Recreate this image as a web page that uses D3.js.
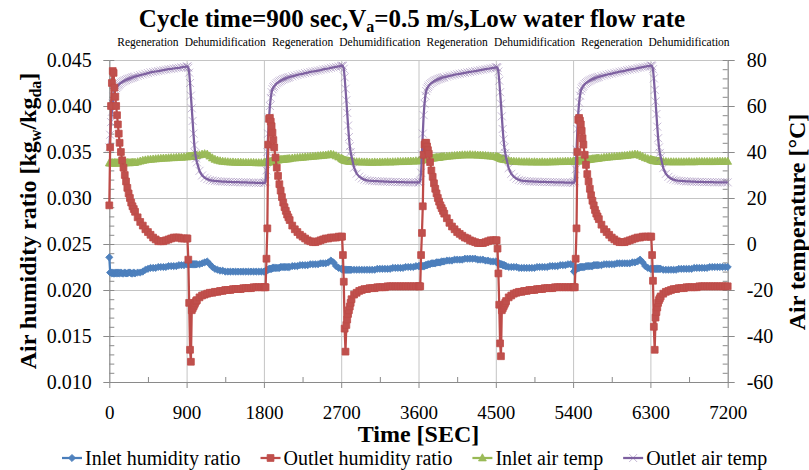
<!DOCTYPE html>
<html>
<head>
<meta charset="utf-8">
<title>Cycle time=900 sec</title>
<script src="https://cdn.jsdelivr.net/npm/d3@7"></script>
<style>
  body { margin: 0; background: #fff; }
  svg text { font-family: "Liberation Serif", "Times New Roman", serif; fill: #000; }
</style>
</head>
<body>
<div id="chart"></div>
<script>
// Measured time stamps [s]: 10 s steps right after each switch, then 15 s / 30 s
const time = [
  0, 10, 20, 30, 40, 50, 60, 70, 80, 90, 100, 110, 120, 135, 150, 165, 180, 195, 210, 225, 240, 255, 270, 285, 300, 330, 360, 390, 420, 450, 480, 510, 540, 570, 600, 630, 660, 690, 720, 750, 780, 810, 840, 870,
  900, 910, 920, 930, 940, 950, 960, 970, 980, 990, 1000, 1010, 1020, 1050, 1080, 1110, 1140, 1170, 1200, 1230, 1260, 1290, 1320, 1350, 1380, 1410, 1440, 1470, 1500, 1530, 1560, 1590, 1620, 1650, 1680, 1710, 1740, 1770,
  1800, 1810, 1820, 1830, 1840, 1850, 1860, 1870, 1880, 1890, 1900, 1910, 1920, 1935, 1950, 1965, 1980, 1995, 2010, 2025, 2040, 2055, 2070, 2085, 2100, 2130, 2160, 2190, 2220, 2250, 2280, 2310, 2340, 2370, 2400, 2430, 2460, 2490, 2520, 2550, 2580, 2610, 2640, 2670,
  2700, 2710, 2720, 2730, 2740, 2750, 2760, 2770, 2780, 2790, 2800, 2810, 2820, 2850, 2880, 2910, 2940, 2970, 3000, 3030, 3060, 3090, 3120, 3150, 3180, 3210, 3240, 3270, 3300, 3330, 3360, 3390, 3420, 3450, 3480, 3510, 3540, 3570,
  3600, 3610, 3620, 3630, 3640, 3650, 3660, 3670, 3680, 3690, 3700, 3710, 3720, 3735, 3750, 3765, 3780, 3795, 3810, 3825, 3840, 3855, 3870, 3885, 3900, 3930, 3960, 3990, 4020, 4050, 4080, 4110, 4140, 4170, 4200, 4230, 4260, 4290, 4320, 4350, 4380, 4410, 4440, 4470,
  4500, 4510, 4520, 4530, 4540, 4550, 4560, 4570, 4580, 4590, 4600, 4610, 4620, 4650, 4680, 4710, 4740, 4770, 4800, 4830, 4860, 4890, 4920, 4950, 4980, 5010, 5040, 5070, 5100, 5130, 5160, 5190, 5220, 5250, 5280, 5310, 5340, 5370,
  5400, 5410, 5420, 5430, 5440, 5450, 5460, 5470, 5480, 5490, 5500, 5510, 5520, 5535, 5550, 5565, 5580, 5595, 5610, 5625, 5640, 5655, 5670, 5685, 5700, 5730, 5760, 5790, 5820, 5850, 5880, 5910, 5940, 5970, 6000, 6030, 6060, 6090, 6120, 6150, 6180, 6210, 6240, 6270,
  6300, 6310, 6320, 6330, 6340, 6350, 6360, 6370, 6380, 6390, 6400, 6410, 6420, 6450, 6480, 6510, 6540, 6570, 6600, 6630, 6660, 6690, 6720, 6750, 6780, 6810, 6840, 6870, 6900, 6930, 6960, 6990, 7020, 7050, 7080, 7110, 7140, 7170,
  7200
];

// Inlet humidity ratio [kg_w/kg_da]
const inletHumidity = [
  0.02355, 0.0219, 0.0219, 0.0218, 0.0219, 0.0218, 0.0218, 0.0219, 0.0218, 0.0219, 0.0218, 0.0219, 0.0218, 0.0219, 0.0218, 0.0218, 0.0219, 0.0218, 0.0218, 0.0219, 0.0219, 0.0218, 0.0218, 0.0219, 0.0218, 0.0219, 0.0219, 0.0220, 0.0222, 0.0223, 0.0224, 0.0224, 0.0224, 0.0225, 0.0225, 0.0225, 0.0225, 0.0226, 0.0226, 0.0226, 0.0226, 0.0227, 0.0227, 0.0227,
  0.0228, 0.0228, 0.0229, 0.0228, 0.0228, 0.0228, 0.0228, 0.0228, 0.0228, 0.0228, 0.0228, 0.0228, 0.0228, 0.0228, 0.0229, 0.0230, 0.0231, 0.0228, 0.0225, 0.0223, 0.0222, 0.0221, 0.0221, 0.0220, 0.0220, 0.0220, 0.0220, 0.0220, 0.0220, 0.0220, 0.0220, 0.0220, 0.0220, 0.0220, 0.0220, 0.0220, 0.0220, 0.0220,
  0.0220, 0.0220, 0.0221, 0.0221, 0.0222, 0.0222, 0.0223, 0.0223, 0.0223, 0.0223, 0.0224, 0.0224, 0.0224, 0.0224, 0.0224, 0.0224, 0.0224, 0.0225, 0.0225, 0.0225, 0.0225, 0.0225, 0.0225, 0.0225, 0.0225, 0.0226, 0.0226, 0.0226, 0.0227, 0.0227, 0.0227, 0.0227, 0.0228, 0.0228, 0.0228, 0.0228, 0.0229, 0.0229, 0.0229, 0.0230, 0.0232, 0.0230, 0.0226, 0.0224,
  0.0223, 0.0223, 0.0222, 0.0222, 0.0222, 0.0222, 0.0222, 0.0222, 0.0222, 0.0222, 0.0222, 0.0222, 0.0222, 0.0222, 0.0222, 0.0222, 0.0222, 0.0222, 0.0222, 0.0222, 0.0222, 0.0222, 0.0223, 0.0223, 0.0223, 0.0223, 0.0223, 0.0223, 0.0224, 0.0224, 0.0224, 0.0224, 0.0224, 0.0225, 0.0225, 0.0225, 0.0225, 0.0226,
  0.0226, 0.0226, 0.0226, 0.0226, 0.0226, 0.0226, 0.0226, 0.0226, 0.0227, 0.0227, 0.0227, 0.0228, 0.0228, 0.0228, 0.0229, 0.0229, 0.0229, 0.0229, 0.0230, 0.0230, 0.0230, 0.0230, 0.0231, 0.0231, 0.0231, 0.0232, 0.0232, 0.0232, 0.0233, 0.0233, 0.0233, 0.0233, 0.0234, 0.0234, 0.0234, 0.0234, 0.0234, 0.0233, 0.0233, 0.0233, 0.0232, 0.0232, 0.0231, 0.0231,
  0.0231, 0.0230, 0.0230, 0.0229, 0.0229, 0.0228, 0.0228, 0.0228, 0.0227, 0.0227, 0.0227, 0.0226, 0.0226, 0.0225, 0.0225, 0.0225, 0.0225, 0.0224, 0.0224, 0.0224, 0.0224, 0.0224, 0.0224, 0.0224, 0.0225, 0.0225, 0.0225, 0.0225, 0.0225, 0.0226, 0.0226, 0.0226, 0.0226, 0.0227, 0.0227, 0.0227, 0.0228, 0.0228,
  0.0227, 0.0220, 0.0221, 0.0222, 0.0223, 0.0224, 0.0224, 0.0224, 0.0225, 0.0225, 0.0225, 0.0225, 0.0225, 0.0225, 0.0226, 0.0226, 0.0226, 0.0226, 0.0226, 0.0226, 0.0227, 0.0227, 0.0227, 0.0227, 0.0227, 0.0227, 0.0228, 0.0228, 0.0228, 0.0228, 0.0228, 0.0229, 0.0229, 0.0229, 0.0229, 0.0229, 0.0229, 0.0230, 0.0230, 0.0231, 0.0233, 0.0230, 0.0226, 0.0224,
  0.0223, 0.0223, 0.0223, 0.0223, 0.0223, 0.0223, 0.0223, 0.0223, 0.0223, 0.0223, 0.0223, 0.0223, 0.0223, 0.0222, 0.0222, 0.0222, 0.0222, 0.0222, 0.0222, 0.0223, 0.0223, 0.0223, 0.0223, 0.0223, 0.0223, 0.0224, 0.0224, 0.0224, 0.0224, 0.0224, 0.0224, 0.0225, 0.0225, 0.0225, 0.0225, 0.0225, 0.0225, 0.0225,
  0.0225
];

// Outlet humidity ratio [kg_w/kg_da]
const outletHumidity = [
  0.0292, 0.0355, 0.0400, 0.0425, 0.0438, 0.0436, 0.0420, 0.0410, 0.0400, 0.0390, 0.0380, 0.0370, 0.0360, 0.0350, 0.0341, 0.0333, 0.0325, 0.0318, 0.0311, 0.0305, 0.0300, 0.0295, 0.0291, 0.0288, 0.0285, 0.0279, 0.0274, 0.0270, 0.0266, 0.0263, 0.0260, 0.0257, 0.0255, 0.0253, 0.0253, 0.0253, 0.0254, 0.0255, 0.0256, 0.0257, 0.0257, 0.0257, 0.0256, 0.0256,
  0.0256, 0.0256, 0.0233, 0.0186, 0.0135, 0.0122, 0.0178, 0.0180, 0.0182, 0.0184, 0.0186, 0.0188, 0.0189, 0.0192, 0.0194, 0.0195, 0.0196, 0.0197, 0.0197, 0.0198, 0.0198, 0.0199, 0.0199, 0.0200, 0.0200, 0.0200, 0.0201, 0.0201, 0.0201, 0.0201, 0.0202, 0.0202, 0.0202, 0.0202, 0.0203, 0.0203, 0.0203, 0.0203,
  0.0203, 0.0203, 0.0203, 0.0234, 0.0267, 0.0358, 0.0386, 0.0387, 0.0383, 0.0378, 0.0371, 0.0363, 0.0355, 0.0344, 0.0333, 0.0324, 0.0315, 0.0308, 0.0301, 0.0295, 0.0290, 0.0286, 0.0282, 0.0279, 0.0276, 0.0270, 0.0266, 0.0263, 0.0260, 0.0258, 0.0256, 0.0254, 0.0253, 0.0252, 0.0252, 0.0253, 0.0254, 0.0255, 0.0256, 0.0256, 0.0257, 0.0257, 0.0257, 0.0258,
  0.0258, 0.0258, 0.0238, 0.0209, 0.0158, 0.0133, 0.0162, 0.0168, 0.0174, 0.0178, 0.0182, 0.0186, 0.0190, 0.0195, 0.0197, 0.0199, 0.0200, 0.0201, 0.0201, 0.0202, 0.0202, 0.0202, 0.0203, 0.0203, 0.0203, 0.0203, 0.0204, 0.0204, 0.0204, 0.0204, 0.0204, 0.0204, 0.0204, 0.0204, 0.0204, 0.0204, 0.0204, 0.0204,
  0.0204, 0.0204, 0.0204, 0.0238, 0.0262, 0.0291, 0.0347, 0.0358, 0.0360, 0.0360, 0.0356, 0.0352, 0.0348, 0.0339, 0.0330, 0.0323, 0.0316, 0.0310, 0.0305, 0.0300, 0.0296, 0.0292, 0.0289, 0.0286, 0.0283, 0.0278, 0.0273, 0.0269, 0.0266, 0.0263, 0.0261, 0.0259, 0.0257, 0.0256, 0.0254, 0.0253, 0.0252, 0.0251, 0.0251, 0.0251, 0.0252, 0.0253, 0.0254, 0.0254,
  0.0254, 0.0254, 0.0245, 0.0218, 0.0184, 0.0142, 0.0128, 0.0178, 0.0180, 0.0182, 0.0184, 0.0186, 0.0188, 0.0192, 0.0194, 0.0196, 0.0197, 0.0198, 0.0198, 0.0199, 0.0199, 0.0200, 0.0200, 0.0200, 0.0201, 0.0201, 0.0201, 0.0202, 0.0202, 0.0202, 0.0202, 0.0203, 0.0203, 0.0203, 0.0203, 0.0203, 0.0203, 0.0203,
  0.0203, 0.0203, 0.0203, 0.0234, 0.0267, 0.0350, 0.0385, 0.0387, 0.0384, 0.0380, 0.0373, 0.0365, 0.0358, 0.0347, 0.0336, 0.0326, 0.0318, 0.0310, 0.0303, 0.0297, 0.0292, 0.0287, 0.0283, 0.0280, 0.0277, 0.0271, 0.0266, 0.0263, 0.0260, 0.0257, 0.0255, 0.0253, 0.0252, 0.0252, 0.0252, 0.0253, 0.0254, 0.0255, 0.0256, 0.0257, 0.0257, 0.0258, 0.0258, 0.0258,
  0.0258, 0.0258, 0.0238, 0.0210, 0.0160, 0.0135, 0.0170, 0.0176, 0.0181, 0.0186, 0.0189, 0.0191, 0.0193, 0.0196, 0.0198, 0.0199, 0.0200, 0.0201, 0.0201, 0.0202, 0.0202, 0.0202, 0.0203, 0.0203, 0.0203, 0.0203, 0.0203, 0.0204, 0.0204, 0.0204, 0.0204, 0.0204, 0.0204, 0.0204, 0.0204, 0.0204, 0.0204, 0.0204,
  0.0204
];

// Inlet air temperature [°C]
const inletTemp = [
  35.2, 35.2, 35.3, 35.2, 35.3, 35.2, 35.3, 35.3, 35.2, 35.3, 35.2, 35.3, 35.2, 35.3, 35.3, 35.2, 35.3, 35.3, 35.4, 35.3, 35.3, 35.4, 35.4, 35.4, 35.5, 35.7, 36.0, 36.3, 36.5, 36.7, 36.8, 36.9, 37.0, 37.1, 37.2, 37.3, 37.3, 37.4, 37.5, 37.5, 37.6, 37.7, 37.7, 37.8,
  37.9, 37.9, 38.0, 38.0, 38.1, 38.1, 38.2, 38.2, 38.3, 38.3, 38.4, 38.4, 38.5, 38.7, 39.0, 39.2, 39.0, 38.2, 37.4, 36.8, 36.4, 36.1, 35.9, 35.8, 35.7, 35.6, 35.6, 35.5, 35.5, 35.5, 35.4, 35.4, 35.4, 35.4, 35.4, 35.3, 35.3, 35.3,
  35.3, 35.4, 35.4, 35.5, 35.5, 35.6, 35.7, 35.7, 35.8, 36.0, 36.1, 36.2, 36.3, 36.4, 36.5, 36.5, 36.6, 36.7, 36.8, 36.8, 36.9, 36.9, 37.0, 37.0, 37.1, 37.3, 37.4, 37.5, 37.6, 37.7, 37.8, 37.9, 38.0, 38.1, 38.2, 38.3, 38.4, 38.5, 38.6, 38.8, 39.0, 38.8, 38.3, 37.8,
  37.3, 37.0, 36.8, 36.6, 36.4, 36.3, 36.2, 36.1, 36.1, 36.0, 36.0, 35.9, 35.9, 35.8, 35.7, 35.7, 35.6, 35.6, 35.6, 35.5, 35.5, 35.6, 35.5, 35.6, 35.6, 35.6, 35.7, 35.6, 35.7, 35.7, 35.8, 35.8, 35.8, 35.9, 35.9, 36.0, 36.0, 36.1,
  36.1, 36.2, 36.3, 36.4, 36.5, 36.6, 36.7, 36.7, 36.8, 36.9, 36.9, 37.0, 37.1, 37.2, 37.3, 37.3, 37.4, 37.5, 37.6, 37.6, 37.7, 37.8, 37.9, 37.9, 38.0, 38.1, 38.2, 38.3, 38.4, 38.5, 38.6, 38.7, 38.7, 38.7, 38.8, 38.7, 38.7, 38.6, 38.6, 38.5, 38.4, 38.3, 38.2, 38.1,
  38.0, 37.9, 37.8, 37.7, 37.5, 37.3, 37.1, 37.0, 36.9, 36.9, 36.8, 36.7, 36.6, 36.2, 36.0, 35.9, 35.8, 35.8, 35.7, 35.7, 35.7, 35.7, 35.6, 35.7, 35.6, 35.6, 35.7, 35.6, 35.6, 35.7, 35.7, 35.7, 35.8, 35.8, 35.8, 35.9, 35.9, 35.9,
  35.9, 36.0, 36.0, 36.0, 36.1, 36.1, 36.1, 36.1, 36.2, 36.2, 36.3, 36.3, 36.4, 36.5, 36.6, 36.6, 36.7, 36.8, 36.9, 37.0, 37.0, 37.1, 37.2, 37.2, 37.3, 37.4, 37.6, 37.7, 37.8, 37.9, 38.0, 38.1, 38.2, 38.3, 38.4, 38.5, 38.7, 38.8, 39.0, 38.9, 38.5, 38.0, 37.5, 37.1,
  36.8, 36.6, 36.5, 36.4, 36.3, 36.2, 36.1, 36.1, 36.0, 36.0, 36.0, 35.9, 35.9, 35.8, 35.8, 35.7, 35.7, 35.7, 35.7, 35.7, 35.7, 35.7, 35.7, 35.8, 35.7, 35.7, 35.8, 35.8, 35.8, 35.8, 35.8, 35.8, 35.8, 35.8, 35.9, 35.9, 35.9, 35.9,
  35.9
];

// Outlet air temperature [°C]
const outletTemp = [
  42.0, 47.5, 53.0, 57.5, 61.0, 64.0, 66.0, 67.0, 67.8, 68.4, 68.9, 69.3, 69.7, 70.1, 70.5, 70.8, 71.1, 71.3, 71.6, 71.8, 72.0, 72.2, 72.4, 72.6, 72.8, 73.1, 73.4, 73.7, 74.0, 74.3, 74.6, 74.8, 75.0, 75.2, 75.4, 75.6, 75.8, 76.0, 76.1, 76.3, 76.5, 76.6, 76.8, 77.0,
  77.1, 77.2, 76.6, 74.5, 70.0, 64.5, 59.0, 53.5, 48.0, 43.0, 39.5, 37.2, 35.5, 31.8, 29.8, 28.8, 28.2, 27.8, 27.6, 27.4, 27.3, 27.2, 27.1, 27.1, 27.0, 27.0, 26.9, 26.9, 26.9, 26.8, 26.8, 26.8, 26.7, 26.7, 26.7, 26.6, 26.6, 26.6,
  26.6, 26.6, 27.2, 32.0, 40.0, 48.0, 55.0, 60.0, 63.5, 66.0, 67.3, 68.1, 68.6, 69.3, 69.9, 70.3, 70.7, 71.0, 71.3, 71.6, 71.8, 72.0, 72.2, 72.4, 72.6, 72.9, 73.2, 73.5, 73.8, 74.0, 74.3, 74.5, 74.8, 75.0, 75.2, 75.4, 75.6, 75.9, 76.1, 76.3, 76.6, 76.8, 77.0, 77.2,
  77.4, 77.6, 77.4, 76.2, 72.5, 67.5, 62.5, 57.0, 51.5, 46.5, 42.5, 40.0, 38.0, 33.2, 30.6, 29.3, 28.5, 28.0, 27.7, 27.5, 27.4, 27.3, 27.3, 27.2, 27.2, 27.1, 27.1, 27.0, 27.0, 27.0, 26.9, 26.9, 26.9, 26.8, 26.8, 26.8, 26.8, 26.8,
  26.8, 26.8, 27.5, 31.0, 39.0, 48.0, 56.0, 61.0, 64.5, 66.5, 67.6, 68.3, 68.9, 69.5, 70.0, 70.4, 70.8, 71.1, 71.3, 71.6, 71.8, 72.0, 72.2, 72.4, 72.5, 72.8, 73.1, 73.3, 73.6, 73.8, 74.0, 74.2, 74.4, 74.6, 74.8, 75.0, 75.2, 75.4, 75.6, 75.8, 76.0, 76.2, 76.4, 76.6,
  76.8, 76.9, 76.6, 75.0, 71.0, 66.0, 61.0, 55.5, 50.0, 45.5, 42.0, 39.5, 37.5, 33.0, 30.5, 29.2, 28.4, 27.9, 27.6, 27.4, 27.3, 27.2, 27.2, 27.1, 27.1, 27.0, 27.0, 27.0, 26.9, 26.9, 26.9, 26.8, 26.8, 26.8, 26.8, 26.7, 26.7, 26.7,
  26.7, 26.7, 27.3, 32.5, 41.0, 50.0, 57.0, 61.5, 64.5, 66.5, 67.6, 68.3, 68.8, 69.5, 70.0, 70.4, 70.8, 71.1, 71.4, 71.7, 71.9, 72.1, 72.3, 72.5, 72.7, 73.0, 73.3, 73.6, 73.9, 74.1, 74.4, 74.6, 74.9, 75.1, 75.3, 75.6, 75.8, 76.0, 76.2, 76.5, 76.7, 76.9, 77.1, 77.3,
  77.5, 77.6, 77.3, 76.0, 72.0, 67.0, 62.0, 56.5, 51.0, 46.0, 42.0, 39.6, 37.8, 33.0, 30.5, 29.2, 28.4, 28.0, 27.7, 27.5, 27.4, 27.3, 27.2, 27.2, 27.1, 27.1, 27.0, 27.0, 27.0, 26.9, 26.9, 26.9, 26.9, 26.8, 26.8, 26.8, 26.8, 26.8,
  26.8
];

const timeTicks = [0, 900, 1800, 2700, 3600, 4500, 5400, 6300, 7200];
const humidityTicks = [0.010, 0.015, 0.020, 0.025, 0.030, 0.035, 0.040, 0.045];
const tempTicks = [-60, -40, -20, 0, 20, 40, 60, 80];
const phaseLabels = ['Regeneration', 'Dehumidification', 'Regeneration', 'Dehumidification',
  'Regeneration', 'Dehumidification', 'Regeneration', 'Dehumidification'];
const titleParts = ['Cycle time=900 sec,V', 'a', '=0.5 m/s,Low water flow rate'];

const width = 809;
const height = 470;
const plot = { left: 109.3, right: 727.7, top: 60, bottom: 382 };
const gridColor = '#c4c4c4';
const axisColor = '#8a8a8a';
const serif = '"Liberation Serif", "Times New Roman", serif';

const svg = d3.select('#chart')
  .append('svg')
  .attr('width', width)
  .attr('height', height)
  .attr('font-family', serif);

svg.append('rect').attr('width', width).attr('height', height).attr('fill', '#fff');

const x = d3.scaleLinear().domain([0, 7200]).range([plot.left, plot.right]);
const yHum = d3.scaleLinear().domain([0.010, 0.045]).range([plot.bottom, plot.top]);
const yTemp = d3.scaleLinear().domain([-60, 80]).range([plot.bottom, plot.top]);

// Gridlines
svg.append('g')
  .attr('transform', `translate(${plot.left},0)`)
  .call(d3.axisLeft(yHum).tickValues(humidityTicks).tickSize(-(plot.right - plot.left)).tickFormat(''))
  .call(g => g.select('.domain').remove())
  .call(g => g.selectAll('line').attr('stroke', gridColor));

svg.append('g')
  .attr('transform', `translate(0,${plot.bottom})`)
  .call(d3.axisBottom(x).tickValues(timeTicks).tickSize(-(plot.bottom - plot.top)).tickFormat(''))
  .call(g => g.select('.domain').remove())
  .call(g => g.selectAll('line').attr('stroke', gridColor));

function styleAxis(g, size) {
  g.attr('font-family', serif).attr('font-size', size);
  g.select('.domain').attr('stroke', axisColor);
  g.selectAll('line').attr('stroke', axisColor);
  g.selectAll('text').attr('fill', '#000').attr('font-family', serif).attr('font-size', size);
}

// Axes: major ticks point out, minor ticks point in
svg.append('g')
  .attr('transform', `translate(${plot.left},0)`)
  .call(d3.axisLeft(yHum).tickValues(humidityTicks).tickFormat(d3.format('.3f'))
    .tickSizeInner(6).tickSizeOuter(0).tickPadding(11.5))
  .call(g => styleAxis(g, 20));

svg.append('g')
  .attr('transform', `translate(${plot.left},0)`)
  .call(d3.axisLeft(yHum).tickValues(yHum.ticks(35)).tickSize(-5).tickFormat(''))
  .call(g => g.select('.domain').remove())
  .call(g => g.selectAll('line').attr('stroke', axisColor));

svg.append('g')
  .attr('transform', `translate(${plot.right},0)`)
  .call(d3.axisRight(yTemp).tickValues(tempTicks).tickFormat(d => String(d))
    .tickSizeInner(7).tickSizeOuter(0).tickPadding(12))
  .call(g => styleAxis(g, 20));

svg.append('g')
  .attr('transform', `translate(${plot.right},0)`)
  .call(d3.axisRight(yTemp).tickValues(d3.range(-60, 81, 4)).tickSize(-5).tickFormat(''))
  .call(g => g.select('.domain').remove())
  .call(g => g.selectAll('line').attr('stroke', axisColor));

svg.append('g')
  .attr('transform', `translate(0,${plot.bottom})`)
  .call(d3.axisBottom(x).tickValues(timeTicks).tickFormat(d => String(d))
    .tickSizeInner(6).tickSizeOuter(0).tickPadding(17.5))
  .call(g => styleAxis(g, 19));

svg.append('g')
  .attr('transform', `translate(0,${plot.bottom})`)
  .call(d3.axisBottom(x).tickValues(d3.range(450, 7200, 900)).tickSize(-5).tickFormat(''))
  .call(g => g.select('.domain').remove())
  .call(g => g.selectAll('line').attr('stroke', axisColor));

// Series
const markerPath = {
  diamond: 'M0,-3.6L3.6,0L0,3.6L-3.6,0Z',
  square: 'M-3.4,-3.4H3.4V3.4H-3.4Z',
  triangle: 'M0,-4.2L3.9,2.9H-3.9Z',
  cross: 'M-4,-4L4,4M-4,4L4,-4'
};

const series = [
  { name: 'Inlet humidity ratio', values: inletHumidity, y: yHum, line: '#4A7EBB', fill: '#4F81BD', marker: 'diamond' },
  { name: 'Outlet humidity ratio', values: outletHumidity, y: yHum, line: '#BE4B48', fill: '#C0504D', marker: 'square' },
  { name: 'Inlet air temp', values: inletTemp, y: yTemp, line: '#98B954', fill: '#9BBB59', marker: 'triangle' },
  { name: 'Outlet air temp', values: outletTemp, y: yTemp, line: '#7D60A0', fill: 'none', marker: 'cross' }
];

function drawMarker(sel, s) {
  sel.attr('d', markerPath[s.marker]);
  if (s.marker === 'cross') {
    sel.attr('fill', 'none').attr('stroke', '#8064A2').attr('stroke-width', 1).attr('stroke-opacity', 0.45);
  } else {
    sel.attr('fill', s.fill).attr('stroke', s.line).attr('stroke-width', 0.8);
  }
}

// temperature series first, humidity on top
[series[2], series[3], series[0], series[1]].forEach(s => {
  const points = time.map((t, i) => ({ t, v: s.values[i] }));
  const g = svg.append('g');

  g.append('path')
    .datum(points)
    .attr('fill', 'none')
    .attr('stroke', s.line)
    .attr('stroke-width', 2.25)
    .attr('stroke-linejoin', 'round')
    .attr('d', d3.line().x(d => x(d.t)).y(d => s.y(d.v)));

  g.selectAll('.marker')
    .data(points)
    .join('path')
    .attr('class', 'marker')
    .attr('transform', d => `translate(${x(d.t)},${s.y(d.v)})`)
    .call(sel => drawMarker(sel, s));
});

// Title
const title = svg.append('text')
  .attr('x', 412)
  .attr('y', 27)
  .attr('text-anchor', 'middle')
  .attr('font-size', 25)
  .attr('font-weight', 'bold');
title.append('tspan').text(titleParts[0]);
title.append('tspan').attr('dy', 5).attr('font-size', 16).text(titleParts[1]);
title.append('tspan').attr('dy', -5).text(titleParts[2]);

// Phase labels above each half cycle
svg.selectAll('.phase')
  .data(phaseLabels)
  .join('text')
  .attr('class', 'phase')
  .attr('x', (d, i) => x(i * 900 + 450))
  .attr('y', 46)
  .attr('text-anchor', 'middle')
  .attr('font-size', 11.5)
  .text(d => d);

// Axis titles
svg.append('text')
  .attr('x', (plot.left + plot.right) / 2)
  .attr('y', 442)
  .attr('text-anchor', 'middle')
  .attr('font-size', 24)
  .attr('font-weight', 'bold')
  .text('Time [SEC]');

const leftTitle = svg.append('text')
  .attr('transform', 'translate(36,221) rotate(-90)')
  .attr('text-anchor', 'middle')
  .attr('font-size', 24)
  .attr('font-weight', 'bold');
leftTitle.append('tspan').text('Air humidity ratio [kg');
leftTitle.append('tspan').attr('dy', 5).attr('font-size', 16).text('w');
leftTitle.append('tspan').attr('dy', -5).text('/kg');
leftTitle.append('tspan').attr('dy', 5).attr('font-size', 16).text('da');
leftTitle.append('tspan').attr('dy', -5).text(']');

svg.append('text')
  .attr('transform', 'translate(805,222) rotate(-90)')
  .attr('text-anchor', 'middle')
  .attr('font-size', 24)
  .attr('font-weight', 'bold')
  .text('Air temperature [°C]');

// Legend
let lx = 62;
series.forEach(s => {
  const item = svg.append('g').attr('transform', `translate(${lx},458)`);
  item.append('line')
    .attr('x1', 0).attr('x2', 20)
    .attr('stroke', s.line)
    .attr('stroke-width', 2.25);
  item.append('path')
    .attr('transform', 'translate(10,0)')
    .call(sel => drawMarker(sel, s));
  const label = item.append('text')
    .attr('x', 23)
    .attr('y', 7)
    .attr('font-size', 20)
    .text(s.name);
  lx += 23 + label.node().getComputedTextLength() + 20;
});
</script>
</body>
</html>
